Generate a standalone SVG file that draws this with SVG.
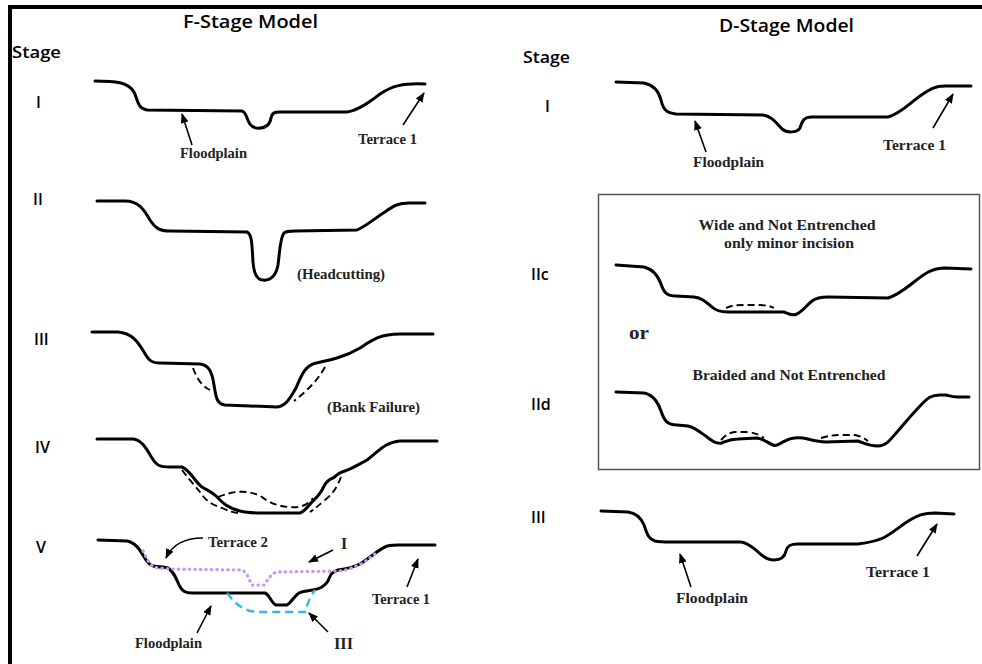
<svg xmlns="http://www.w3.org/2000/svg" width="982" height="664" viewBox="0 0 982 664">
  <defs>
    <style>
      .bg { fill: #ffffff; }
      .frame { stroke: #000; stroke-width: 4; fill: none; }
      .profile { fill: none; stroke: #000; stroke-width: 3; stroke-linecap: round; stroke-linejoin: round; }
      .dash { fill: none; stroke: #000; stroke-width: 1.9; stroke-dasharray: 7 4; }
      .dotted { fill: none; stroke: #c59ce9; stroke-width: 3.2; stroke-dasharray: 0.5 5; stroke-linecap: round; }
      .cyan { fill: none; stroke: #36b6e2; stroke-width: 2.4; stroke-dasharray: 8 5; }
      .arrow { fill: none; stroke: #000; stroke-width: 1.6; marker-end: url(#head); }
      .head { font-family: "Open Sans", "Liberation Sans", sans-serif; font-weight: 600; font-size: 18px; fill: #000; }
      .stage { font-family: "Open Sans", "Liberation Sans", sans-serif; font-weight: 600; font-size: 16px; fill: #000; }
      .lbl { font-family: "Liberation Serif", serif; font-weight: bold; font-size: 14px; fill: #222; }
      .big { font-size: 16px; }
      .box-lbl { font-family: "Liberation Serif", serif; font-weight: bold; font-size: 15px; fill: #222; }
      .or { font-size: 18px; }
      .boxline { fill: none; stroke: #555; stroke-width: 1.5; }
    </style>
    <marker id="head" viewBox="0 0 10 8" refX="9" refY="4" markerWidth="10" markerHeight="8" markerUnits="userSpaceOnUse" orient="auto">
      <path d="M0,0 L10,4 L0,8 z" fill="#000"/>
    </marker>
  </defs>

  <rect class="bg" x="0" y="0" width="982" height="664"/>
  <!-- outer frame: top and left edges -->
  <path class="frame" d="M10,664 L10,7 L982,7"/>

  <!-- ===== F-Stage model ===== -->
  <g id="f-titles">
    <text class="head" x="183" y="28" textLength="135" lengthAdjust="spacingAndGlyphs">F-Stage Model</text>
    <text class="stage" x="12" y="58" textLength="49" lengthAdjust="spacingAndGlyphs">Stage</text>
  </g>

  <g id="f-stage-1">
    <text class="stage" x="36" y="108">I</text>
    <path class="profile" d="M95,81 C115,81 128,82 134,92 C138,100 137,108 147,110 L242,111 C248,112 246,126 256,128 C266,129 270,124 271,118 C272,113 274,112 280,112 L347,112 C360,110 372,100 380,94 C392,86 402,83 425,84"/>
    <text class="lbl" x="180" y="158" textLength="67" lengthAdjust="spacingAndGlyphs">Floodplain</text>
    <text class="lbl" x="358" y="144" textLength="59" lengthAdjust="spacingAndGlyphs">Terrace 1</text>
  </g>

  <g id="f-stage-2">
    <text class="stage" x="33" y="205">II</text>
    <path class="profile" d="M97,201 L125,201 C140,201 145,212 150,220 C156,229 160,231 170,231 L247,232 C252,234 252,245 253,262 C254,275 258,280 263,280 C270,281 276,276 278,265 C280,250 280,238 284,233 C286,231 290,231 295,231 L357,230 C368,225 375,218 385,212 C393,206 398,203 410,203 L425,203"/>
    <text class="lbl" x="297" y="279" textLength="88" lengthAdjust="spacingAndGlyphs">(Headcutting)</text>
  </g>

  <g id="f-stage-3">
    <text class="stage" x="34" y="345">III</text>
    <path class="profile" d="M92,332 L118,332 C132,333 138,342 144,352 C149,361 152,363 160,363 L200,364 C209,365 212,372 214,385 C216,398 217,404 225,405 L277,407 C286,406 290,398 296,388 C301,377 304,366 316,363 C330,360 345,357 360,348 C372,340 380,334 400,334 L433,334"/>
    <path class="dash" d="M193,368 C196,376 200,385 210,390"/>
    <path class="dash" d="M325,367 C318,380 308,390 294,401"/>
    <text class="lbl" x="327" y="412" textLength="93" lengthAdjust="spacingAndGlyphs">(Bank Failure)</text>
  </g>

  <g id="f-stage-4">
    <text class="stage" x="35" y="453">IV</text>
    <path class="profile" d="M97,439 L133,439 C143,440 148,452 152,458 C157,466 160,467 170,467 L182,467 C190,470 195,482 202,487 C209,491 212,492 216,496 C222,502 227,508 240,511 C248,513 255,513 262,513 L300,513 C306,511 309,504 314,500 C318,496 320,494 322,490 C325,484 327,480 333,478 C336,476 338,473 342,472 C350,470 356,466 367,460 C378,452 385,442 400,441 L437,441"/>
    <path class="dash" d="M218,497 C235,490 250,490 262,497 C272,505 285,508 298,507 C305,506 310,502 313,498"/>
    <path class="dash" d="M182,470 C188,478 195,486 200,492 C205,500 212,505 222,508 C228,511 232,512 238,513"/>
    <path class="dash" d="M341,477 C338,485 334,493 325,500 C319,505 316,508 310,512"/>
  </g>

  <g id="f-stage-5">
    <text class="stage" x="36" y="553">V</text>
    <path class="profile" d="M98,540 L127,541 C137,543 141,552 146,560 C150,566 154,567 163,567 L168,568 C174,572 176,578 179,585 C182,591 185,593 192,593 L265,593 C270,595 271,603 276,605 L287,605 C292,602 294,596 299,593 C303,591 308,591 313,590 C320,589 325,586 328,581 C330,576 331,572 338,570 C345,569 352,568 360,564 C370,558 378,550 385,547 C388,545 392,545 398,545 L435,545"/>
    <path class="dotted" d="M143,551 C148,560 150,567 158,568 L170,569 L242,570 C247,572 249,580 252,585 L264,585 C268,580 270,574 277,572 L340,571 C348,570 355,567 363,563 C370,558 373,555 378,552"/>
    <path class="cyan" d="M227,593 C234,602 240,608 250,611 L257,612 L305,612 C307,606 309,598 315,590"/>
    <text class="lbl" x="208" y="547" textLength="60" lengthAdjust="spacingAndGlyphs">Terrace 2</text>
    <text class="lbl big" x="341" y="549">I</text>
    <text class="lbl" x="372" y="604" textLength="58" lengthAdjust="spacingAndGlyphs">Terrace 1</text>
    <text class="lbl" x="135" y="648" textLength="67" lengthAdjust="spacingAndGlyphs">Floodplain</text>
    <text class="lbl big" x="334" y="649" textLength="19" lengthAdjust="spacingAndGlyphs">III</text>
  </g>

  <!-- ===== D-Stage model ===== -->
  <g id="d-titles">
    <text class="head" x="719" y="32" textLength="135" lengthAdjust="spacingAndGlyphs">D-Stage Model</text>
    <text class="stage" x="523" y="63" textLength="47" lengthAdjust="spacingAndGlyphs">Stage</text>
  </g>

  <g id="d-stage-1">
    <text class="stage" x="545" y="112">I</text>
    <path class="profile" d="M616,82 L644,83 C654,85 659,92 661,100 C663,109 666,113 676,114 L763,115 C772,116 777,124 782,129 C787,133 797,133 800,128 C802,122 803,117 812,117 L888,117 C900,114 910,103 920,96 C930,89 935,86 945,86 L971,86"/>
    <text class="lbl" x="693" y="167" textLength="71" lengthAdjust="spacingAndGlyphs">Floodplain</text>
    <text class="lbl" x="883" y="150" textLength="63" lengthAdjust="spacingAndGlyphs">Terrace 1</text>
  </g>

  <g id="d-stage-2">
    <rect class="boxline" x="598.5" y="194.5" width="381" height="275"/>
    <text class="box-lbl" x="787" y="230" text-anchor="middle" textLength="177" lengthAdjust="spacingAndGlyphs">Wide and Not Entrenched</text>
    <text class="box-lbl" x="789" y="248" text-anchor="middle" textLength="130" lengthAdjust="spacingAndGlyphs">only minor incision</text>
    <text class="stage" x="531" y="280">IIc</text>
    <path class="profile" d="M616,265 L644,267 C653,269 658,276 661,284 C664,293 667,296 676,296 L694,297 C702,298 706,302 712,307 C716,311 720,312 728,312 L784,312 C789,314 792,316 797,314 C803,311 807,305 812,301 C816,298 820,297 828,297 L888,298 C898,295 905,289 914,282 C924,274 932,268 945,268 L971,269"/>
    <path class="dash" d="M726,308 C732,305 738,305 745,305 L758,305 C766,305 770,306 774,308"/>
    <text class="box-lbl or" x="629" y="339" textLength="20" lengthAdjust="spacingAndGlyphs">or</text>
    <text class="box-lbl" x="789" y="380" text-anchor="middle" textLength="193" lengthAdjust="spacingAndGlyphs">Braided and Not Entrenched</text>
    <text class="stage" x="531" y="410">IId</text>
    <path class="profile" d="M616,392 L644,393 C654,395 658,403 661,411 C664,420 667,425 677,425 L688,426 C696,428 701,433 707,437 C712,441 716,444 722,443 C727,441 730,439 738,439 L757,438 C764,439 768,443 773,445 C778,447 780,443 785,441 C790,438 795,437 803,438 C812,440 818,442 826,442 L858,441 C864,443 868,446 878,446 C886,446 890,440 897,432 C905,423 913,413 921,405 C927,399 930,395 940,395 L946,395 C950,396 952,397 958,397 L969,397"/>
    <path class="dash" d="M721,440 C725,436 728,433 735,432 L748,432 C755,433 760,435 764,438"/>
    <path class="dash" d="M821,438 C828,436 833,435 840,435 L855,435 C860,436 864,438 868,441"/>
  </g>

  <g id="d-stage-3">
    <text class="stage" x="531" y="523">III</text>
    <path class="profile" d="M601,511 L628,512 C636,513 641,518 644,525 C647,533 648,539 655,541 C660,542 663,542 670,542 L741,542 C748,543 752,547 757,551 C762,556 767,560 774,560 C782,560 785,556 786,551 C787,546 790,544 798,544 L858,544 C866,543 874,542 883,538 C893,533 900,526 910,520 C918,515 924,513 935,513 L954,514"/>
    <text class="lbl" x="676" y="603" textLength="72" lengthAdjust="spacingAndGlyphs">Floodplain</text>
    <text class="lbl" x="866" y="577" textLength="64" lengthAdjust="spacingAndGlyphs">Terrace 1</text>
  </g>

  <!-- label pointers -->
  <g id="connectors">
    <path class="arrow" d="M192,145 L182,114"/>
    <path class="arrow" d="M403,125 L424,93"/>
    <path class="arrow" d="M203,538 C185,538 172,545 166,558"/>
    <path class="arrow" d="M333,550 L309,562"/>
    <path class="arrow" d="M407,587 L418,559"/>
    <path class="arrow" d="M197,633 L211,606"/>
    <path class="arrow" d="M328,632 L309,613"/>
    <path class="arrow" d="M706,152 L695,121"/>
    <path class="arrow" d="M933,128 L953,94"/>
    <path class="arrow" d="M691,587 L680,554"/>
    <path class="arrow" d="M917,556 L937,524"/>
  </g>
</svg>
